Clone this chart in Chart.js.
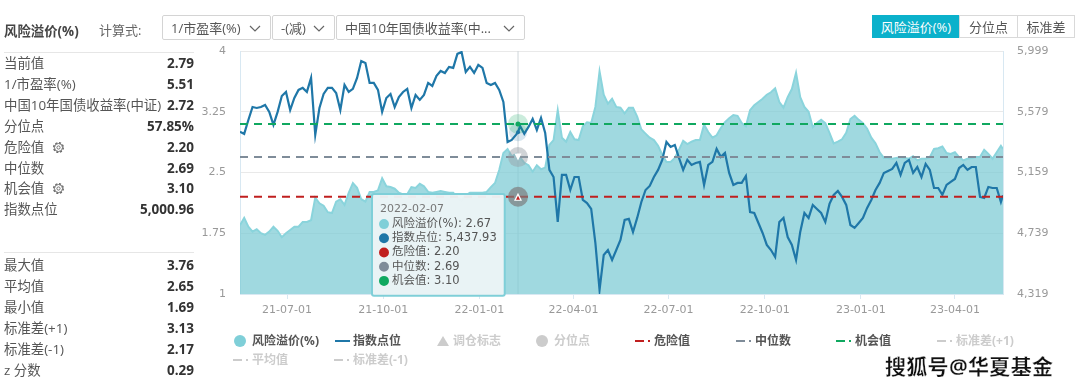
<!DOCTYPE html>
<html>
<head>
<meta charset="utf-8">
<script src="https://cdn.jsdelivr.net/npm/chart.js@4/dist/chart.umd.min.js"></script>
<style>
  html, body { margin: 0; padding: 0; background: #fff; }
  body { width: 1080px; height: 390px; position: relative; overflow: hidden; font-family: "Open Sans", "Noto Sans CJK SC", sans-serif; color: #555; }
  canvas { position: absolute; left: 0; top: 0; }
  .abs { position: absolute; white-space: nowrap; }
  .row { position: absolute; left: 4px; width: 190px; height: 21px; line-height: 21px; font-size: 13.4px; display: flex; justify-content: space-between; white-space: nowrap; }
  .row b { color: #333; font-weight: 700; font-size: 13.5px; }
  .rule { position: absolute; left: 4px; width: 190px; height: 1px; background: #e6e6e6; }
  .sel { position: absolute; top: 15px; height: 25px; line-height: 25px; border: 1px solid #d4d4d4; border-radius: 2px; box-sizing: border-box; font-size: 13px; padding-left: 8px; color: #555; white-space: nowrap; }
  .sel svg { position: absolute; right: 9px; top: 9px; }
  .tab { position: absolute; top: 15px; height: 23px; line-height: 22px; text-align: center; font-size: 13px; border: 1px solid #d9d9d9; box-sizing: border-box; color: #555; }
  .tab.on { background: #0bb1cb; border-color: #0bb1cb; color: #fff; }
  .lg { position: absolute; height: 16px; line-height: 16px; font-size: 12px; font-weight: 700; color: #555; white-space: nowrap; }
  .lg.off { color: #ccc; }
  .lg svg { position: absolute; left: -20px; top: 2px; }
  .mark { position: absolute; left: 885px; top: 350px; font-size: 21px; font-weight: 700; letter-spacing: 0.3px; color: #111; -webkit-text-stroke: 0.3px #fff; text-shadow: 1px 1px 0 #fff; white-space: nowrap; }
</style>
</head>
<body>
<canvas id="premiumChart" width="1080" height="390"></canvas>
<div class="abs" style="left:4px;top:20px;font-size:13.4px;font-weight:700;color:#444">风险溢价(%)</div>
<div class="abs" style="left:99px;top:20px;font-size:13px;color:#666">计算式:</div>
<div id="selects"></div>
<div id="tabs"></div>
<div class="rule" style="top:52px"></div>
<div class="rule" style="top:252px"></div>
<div id="panel"></div>
<div id="legend"></div>
<div class="mark">搜狐号@华夏基金</div>

<script>
// ---- data ----
const dates = [
  '21-05-17','21-05-21','21-05-25','21-05-29','21-06-02','21-06-06','21-06-10','21-06-14','21-06-18','21-06-22',
  '21-06-26','21-06-30','21-07-04','21-07-08','21-07-12','21-07-16','21-07-20','21-07-24','21-07-28','21-08-01',
  '21-08-05','21-08-09','21-08-13','21-08-17','21-08-21','21-08-25','21-08-29','21-09-02','21-09-06','21-09-10',
  '21-09-14','21-09-18','21-09-22','21-09-26','21-09-30','21-10-04','21-10-08','21-10-12','21-10-16','21-10-20',
  '21-10-24','21-10-28','21-11-01','21-11-05','21-11-09','21-11-13','21-11-17','21-11-21','21-11-25','21-11-29',
  '21-12-03','21-12-07','21-12-11','21-12-15','21-12-19','21-12-23','21-12-27','21-12-31','22-01-04','22-01-08',
  '22-01-12','22-01-16','22-01-20','22-01-24','22-01-28','22-02-01','22-02-05','22-02-07',
  '22-02-09','22-02-13','22-02-17',
  '22-02-21','22-02-25','22-03-01','22-03-05','22-03-09','22-03-13','22-03-17','22-03-21','22-03-25','22-03-29',
  '22-04-02','22-04-06','22-04-10','22-04-14','22-04-18','22-04-22','22-04-26','22-04-30','22-05-04','22-05-08',
  '22-05-12','22-05-16','22-05-20','22-05-24','22-05-28','22-06-01','22-06-05','22-06-09','22-06-13','22-06-17',
  '22-06-21','22-06-25','22-06-29','22-07-03','22-07-07','22-07-11','22-07-15','22-07-19','22-07-23','22-07-27',
  '22-07-31','22-08-04','22-08-08','22-08-12','22-08-16','22-08-20','22-08-24','22-08-28','22-09-01','22-09-05',
  '22-09-09','22-09-13','22-09-17','22-09-21','22-09-25','22-09-29','22-10-03','22-10-07','22-10-11','22-10-15',
  '22-10-19','22-10-23','22-10-27','22-10-31','22-11-04','22-11-08','22-11-12','22-11-16','22-11-20','22-11-24',
  '22-11-28','22-12-02','22-12-06','22-12-10','22-12-14','22-12-18','22-12-22','22-12-26','22-12-30','23-01-03',
  '23-01-07','23-01-11','23-01-15','23-01-19','23-01-23','23-01-27','23-01-31','23-02-04','23-02-08','23-02-12',
  '23-02-16','23-02-20','23-02-24','23-02-28','23-03-04','23-03-08','23-03-12','23-03-16','23-03-20','23-03-24',
  '23-03-28','23-04-01','23-04-05','23-04-09','23-04-13','23-04-17','23-04-21','23-04-25','23-04-29','23-05-03',
  '23-05-07','23-05-11','23-05-15','23-05-17'
];
const riskPremium = [
  1.85,1.94,1.83,1.77,1.80,1.75,1.73,1.77,1.83,1.78,
  1.70,1.75,1.79,1.83,1.83,1.89,1.89,1.91,2.19,2.12,
  2.09,2.01,2.00,2.14,2.17,2.10,2.25,2.37,2.31,2.17,
  2.14,2.26,2.26,2.28,2.43,2.33,2.32,2.30,2.25,2.23,
  2.23,2.32,2.31,2.36,2.33,2.26,2.25,2.26,2.27,2.26,
  2.25,2.25,2.19,2.16,2.22,2.25,2.25,2.25,2.25,2.26,
  2.32,2.37,2.53,2.74,2.79,2.70,2.73,2.67,
  2.69,2.62,2.59,
  2.51,2.59,2.54,2.56,2.84,2.90,3.27,2.93,2.88,3.00,
  2.91,2.90,3.07,3.12,3.11,3.31,3.75,3.46,3.35,3.41,
  3.31,3.30,3.23,3.30,3.30,3.19,3.03,2.98,2.93,2.90,
  2.83,2.72,2.63,2.63,2.68,2.78,2.89,2.85,2.88,2.90,
  2.90,3.09,3.00,2.93,2.96,3.05,3.12,3.17,3.21,3.20,
  3.11,3.07,3.27,3.33,3.37,3.41,3.46,3.49,3.54,3.37,
  3.30,3.43,3.53,3.73,3.43,3.31,3.25,3.06,3.11,3.15,
  3.11,2.99,2.86,2.88,2.91,2.99,3.16,3.20,3.15,3.11,
  3.04,2.93,2.86,2.75,2.68,2.68,2.67,2.68,2.69,2.68,
  2.67,2.70,2.65,2.67,2.67,2.69,2.79,2.80,2.82,2.74,
  2.73,2.75,2.69,2.65,2.67,2.68,2.69,2.69,2.78,2.73,
  2.67,2.75,2.83,2.79
];
const indexLevel = [
  5441,5426,5522,5612,5605,5612,5626,5578,5488,5578,
  5688,5716,5591,5674,5730,5744,5716,5813,5419,5605,
  5702,5744,5744,5709,5591,5764,5716,5737,5813,5930,
  5916,5778,5778,5730,5578,5674,5702,5612,5681,5716,
  5737,5605,5695,5661,5695,5778,5757,5827,5861,5847,
  5889,5882,5979,5992,5854,5889,5847,5903,5882,5778,
  5764,5778,5730,5647,5370,5384,5419,5437.93,
  5481,5426,5474,
  5529,5453,5536,5432,5177,5128,4817,5142,5142,5038,
  5128,5128,4969,4948,4907,4672,4347,4589,4623,4554,
  4623,4693,4831,4838,4748,4845,4955,5038,5066,5128,
  5177,5246,5370,5336,5349,5260,5177,5246,5211,5225,
  5232,5073,5211,5232,5322,5267,5294,5156,5073,5087,
  5087,5135,4886,4879,4810,4741,4658,4623,4575,4817,
  4845,4713,4658,4554,4748,4879,4845,4935,4907,4879,
  4817,4942,5004,5031,4990,4935,4796,4776,4810,4845,
  4914,4969,5038,5087,5156,5170,5184,5225,5142,5225,
  5246,5156,5197,5128,5218,5177,5052,5052,5004,5073,
  5094,5114,5190,5211,5177,5197,5197,4990,4983,5059,
  5052,5052,4955,5000.96
];
const lineDates = ['21-05-17', '22-02-07', '23-05-17'];
const dangerValues = [2.20, 2.20, 2.20];
const medianValues = [2.69, 2.69, 2.69];
const chanceValues = [3.10, 3.10, 3.10];
const xTickDates = ['21-07-01', '21-10-01', '22-01-01', '22-04-01', '22-07-01', '22-10-01', '23-01-01', '23-04-01'];
const tooltipDate = '22-02-07';

const topStats = [
  ['当前值', '2.79'], ['1/市盈率(%)', '5.51'], ['中国10年国债收益率(中证)', '2.72'], ['分位点', '57.85%'],
  ['危险值 gear', '2.20'], ['中位数', '2.69'], ['机会值 gear', '3.10'], ['指数点位', '5,000.96']
];
const lowerStats = [
  ['最大值', '3.76'], ['平均值', '2.65'], ['最小值', '1.69'], ['标准差(+1)', '3.13'], ['标准差(-1)', '2.17'], ['z 分数', '0.29']
];
const selectLabels = ['1/市盈率(%)', '-(减)', '中国10年国债收益率(中...'];
const tabLabels = ['风险溢价(%)', '分位点', '标准差'];

const TEAL = '#7fcfd8', BLUE = '#1f77a8', RED = '#c01f1f', GREY = '#7f8c99', GREEN = '#10a860';

// ---- page furniture ----
const chevron = '<svg width="12" height="7"><path d="M1 1 L6 6 L11 1" fill="none" stroke="#666" stroke-width="1.2"/></svg>';
const gear = '<svg width="13" height="13" style="vertical-align:-2px;margin-left:8px"><circle cx="6.5" cy="6.5" r="4.6" fill="none" stroke="#666" stroke-width="1.8" stroke-dasharray="2 1.6"/><circle cx="6.5" cy="6.5" r="4" fill="#fff" stroke="#666" stroke-width="0.9"/><circle cx="6.5" cy="6.5" r="1.6" fill="none" stroke="#666" stroke-width="0.9"/></svg>';

const selectBoxes = [[162, 109], [272, 63], [336, 189]];
document.getElementById('selects').innerHTML = selectLabels.map((t, i) =>
  `<div class="sel" style="left:${selectBoxes[i][0]}px;width:${selectBoxes[i][1]}px">${t}${chevron}</div>`).join('');

const tabBoxes = [[872, 88], [959, 59], [1017, 58]];
document.getElementById('tabs').innerHTML = tabLabels.map((t, i) =>
  `<div class="tab${i === 0 ? ' on' : ''}" style="left:${tabBoxes[i][0]}px;width:${tabBoxes[i][1]}px">${t}</div>`).join('');

function statRows(rows, top) {
  return rows.map((r, i) => {
    const label = r[0].replace(' gear', gear);
    return `<div class="row" style="top:${top + i * 20.9}px"><span>${label}</span><b>${r[1]}</b></div>`;
  }).join('');
}
document.getElementById('panel').innerHTML = statRows(topStats, 53) + statRows(lowerStats, 255);

// legend is laid out by hand, the reference has fixed columns
function dashIcon(color) {
  return `<svg width="18" height="12"><line x1="1" y1="6" x2="10" y2="6" stroke="${color}" stroke-width="2"/><line x1="14" y1="6" x2="16" y2="6" stroke="${color}" stroke-width="2"/></svg>`;
}
const legendItems = [
  ['风险溢价(%)', 252, 333, false, `<svg width="16" height="14" style="left:-19px;top:1px"><circle cx="7" cy="7" r="6" fill="${TEAL}"/></svg>`],
  ['指数点位', 353, 333, false, `<svg width="18" height="12"><line x1="2" y1="6" x2="17" y2="6" stroke="${BLUE}" stroke-width="2"/></svg>`],
  ['调仓标志', 453, 333, true, '<svg width="14" height="12" style="left:-17px"><path d="M7 1 L13 11 L1 11 Z" fill="#ccc"/></svg>'],
  ['分位点', 554, 333, true, '<svg width="14" height="14" style="left:-19px;top:1px"><circle cx="7" cy="7" r="6" fill="#ccc"/></svg>'],
  ['危险值', 654, 333, false, dashIcon(RED)],
  ['中位数', 755, 333, false, dashIcon(GREY)],
  ['机会值', 855, 333, false, dashIcon(GREEN)],
  ['标准差(+1)', 956, 333, true, dashIcon('#ccc')],
  ['平均值', 252, 352, true, dashIcon('#ccc')],
  ['标准差(-1)', 353, 352, true, dashIcon('#ccc')]
];
document.getElementById('legend').innerHTML = legendItems.map(it =>
  `<div class="lg${it[3] ? ' off' : ''}" style="left:${it[1]}px;top:${it[2]}px">${it[4]}${it[0]}</div>`).join('');

// ---- chart ----
const toMs = d => Date.parse('20' + d + 'T00:00:00Z');
const premiumPoints = dates.map((d, i) => ({ x: toMs(d), y: riskPremium[i] }));
const indexPoints = dates.map((d, i) => ({ x: toMs(d), y: indexLevel[i] }));
const linePoints = vals => lineDates.map((d, i) => ({ x: toMs(d), y: vals[i] }));
const tipIndex = dates.indexOf(tooltipDate);

const tickFont = { family: '"DejaVu Sans"', size: 11 };

function haloRadius(which, r) {
  return ctx => (ctx.dataIndex === which ? r : 0);
}

Chart.Tooltip.positioners.fixedBox = function () {
  return { x: 374, y: 194 };
};

// crosshair and the little symbols in the middle of the hover circles
const hoverMarks = {
  id: 'hoverMarks',
  beforeDatasetsDraw(chart) {
    const c = chart.ctx, x = chart.scales.x.getPixelForValue(toMs(tooltipDate));
    c.save();
    c.strokeStyle = '#cfd6da';
    c.lineWidth = 1;
    c.beginPath();
    c.moveTo(x, chart.chartArea.top);
    c.lineTo(x, chart.chartArea.bottom);
    c.stroke();
    c.restore();
  },
  afterDatasetsDraw(chart) {
    const c = chart.ctx, x = chart.scales.x.getPixelForValue(toMs(tooltipDate)), y = chart.scales.y;
    const tri = (py, dir, color, size) => {
      c.fillStyle = color;
      c.beginPath();
      c.moveTo(x, py - dir * size);
      c.lineTo(x - size, py + dir * size);
      c.lineTo(x + size, py + dir * size);
      c.closePath();
      c.fill();
    };
    const dot = (py, color, r) => {
      c.fillStyle = color;
      c.beginPath();
      c.arc(x, py, r, 0, Math.PI * 2);
      c.fill();
    };
    c.save();
    dot(y.getPixelForValue(chanceValues[1]), GREEN, 2.5);
    dot(chart.scales.yIndex.getPixelForValue(indexLevel[tipIndex]), BLUE, 2);
    tri(y.getPixelForValue(medianValues[1]), -1, '#fff', 3.5);
    tri(y.getPixelForValue(dangerValues[1]), 1, '#fff', 4);
    tri(y.getPixelForValue(dangerValues[1]) + 1, 1, RED, 2);
    c.restore();
  }
};

const chart = new Chart(document.getElementById('premiumChart').getContext('2d'), {
  type: 'line',
  plugins: [hoverMarks],
  data: {
    datasets: [
      {
        label: '风险溢价(%)', data: premiumPoints, yAxisID: 'y', order: 4,
        borderColor: '#8ad4dc', borderWidth: 2, backgroundColor: 'rgba(124,203,212,0.72)', fill: 'start',
        tension: 0, pointRadius: 0, pointHoverRadius: 0
      },
      {
        label: '指数点位', data: indexPoints, yAxisID: 'yIndex', order: 3,
        borderColor: BLUE, borderWidth: 2.2, tension: 0, fill: false,
        pointRadius: haloRadius(tipIndex, 9), pointBackgroundColor: 'rgba(31,119,168,0.18)', pointBorderWidth: 0,
        pointHoverRadius: 9, pointHoverBackgroundColor: 'rgba(31,119,168,0.18)', pointHoverBorderWidth: 0
      },
      {
        label: '危险值', data: linePoints(dangerValues), yAxisID: 'y', order: 1,
        borderColor: RED, borderWidth: 2, borderDash: [8, 6], fill: false,
        pointRadius: haloRadius(1, 10), pointBackgroundColor: 'rgba(125,125,125,0.7)', pointBorderWidth: 0,
        pointHoverRadius: 10, pointHoverBackgroundColor: 'rgba(125,125,125,0.7)', pointHoverBorderWidth: 0
      },
      {
        label: '中位数', data: linePoints(medianValues), yAxisID: 'y', order: 1,
        borderColor: GREY, borderWidth: 2, borderDash: [8, 6], fill: false,
        pointRadius: haloRadius(1, 10), pointBackgroundColor: 'rgba(150,158,165,0.45)', pointBorderWidth: 0,
        pointHoverRadius: 10, pointHoverBackgroundColor: 'rgba(150,158,165,0.45)', pointHoverBorderWidth: 0
      },
      {
        label: '机会值', data: linePoints(chanceValues), yAxisID: 'y', order: 1,
        borderColor: GREEN, borderWidth: 2, borderDash: [8, 6], fill: false,
        pointRadius: haloRadius(1, 10), pointBackgroundColor: 'rgba(16,168,96,0.22)', pointBorderWidth: 0,
        pointHoverRadius: 10, pointHoverBackgroundColor: 'rgba(16,168,96,0.22)', pointHoverBorderWidth: 0
      }
    ]
  },
  options: {
    responsive: false,
    animation: false,
    events: [],
    layout: { padding: { left: 190, right: 10, top: 51, bottom: 60 } },
    scales: {
      x: {
        type: 'linear',
        min: toMs(dates[0]),
        max: toMs(dates[dates.length - 1]),
        afterBuildTicks: axis => { axis.ticks = xTickDates.map(d => ({ value: toMs(d) })); },
        afterFit: axis => { axis.height = 36; },
        ticks: {
          autoSkip: false, maxRotation: 0, color: '#999', font: tickFont, padding: 5,
          callback: (value, i) => xTickDates[i]
        },
        grid: { drawOnChartArea: false, tickLength: 5, tickColor: '#d8e8f2' },
        border: { color: '#d8e8f2' }
      },
      y: {
        position: 'left', min: 1, max: 4,
        afterFit: axis => { axis.width = 50; },
        ticks: { stepSize: 0.75, color: '#999', font: tickFont, padding: 14, callback: v => String(v) },
        grid: { color: '#e9e9e9', drawTicks: false },
        border: { color: '#d8e8f2' }
      },
      yIndex: {
        position: 'right', min: 4319, max: 5999,
        afterFit: axis => { axis.width = 67; },
        ticks: { stepSize: 420, color: '#999', font: tickFont, padding: 14, callback: v => v.toLocaleString('en-US') },
        grid: { drawOnChartArea: false, drawTicks: false },
        border: { color: '#d8e8f2' }
      }
    },
    plugins: {
      legend: { display: false },
      tooltip: {
        enabled: true,
        position: 'fixedBox',
        xAlign: 'left',
        yAlign: 'top',
        caretSize: 0,
        caretPadding: 0,
        cornerRadius: 2,
        backgroundColor: 'rgba(236,244,246,0.96)',
        borderColor: '#7fcfd8',
        borderWidth: 2,
        padding: { left: 8, right: 8, top: 9, bottom: 8 },
        titleColor: '#777',
        titleFont: { family: '"DejaVu Sans"', size: 11, weight: 'normal' },
        titleMarginBottom: 1,
        bodyColor: '#555',
        bodyFont: { family: '"DejaVu Sans", "Noto Sans CJK SC"', size: 11.5 },
        bodySpacing: 0.4,
        boxWidth: 8,
        boxHeight: 8,
        boxPadding: 2,
        usePointStyle: true,
        callbacks: {
          title: () => '20' + tooltipDate,
          label: item => item.dataset.label + ': ' + item.parsed.y.toLocaleString('en-US', { minimumFractionDigits: 2 }),
          labelColor: item => {
            const col = [TEAL, BLUE, RED, GREY, GREEN][item.datasetIndex];
            return { borderColor: col, backgroundColor: col, borderWidth: 0 };
          },
          labelPointStyle: () => ({ pointStyle: 'circle', rotation: 0 })
        }
      }
    }
  }
});

const active = [
  { datasetIndex: 0, index: tipIndex }, { datasetIndex: 1, index: tipIndex },
  { datasetIndex: 2, index: 1 }, { datasetIndex: 3, index: 1 }, { datasetIndex: 4, index: 1 }
];
chart.setActiveElements(active);
chart.tooltip.setActiveElements(active, { x: 0, y: 0 });
chart.update();
</script>
</body>
</html>
